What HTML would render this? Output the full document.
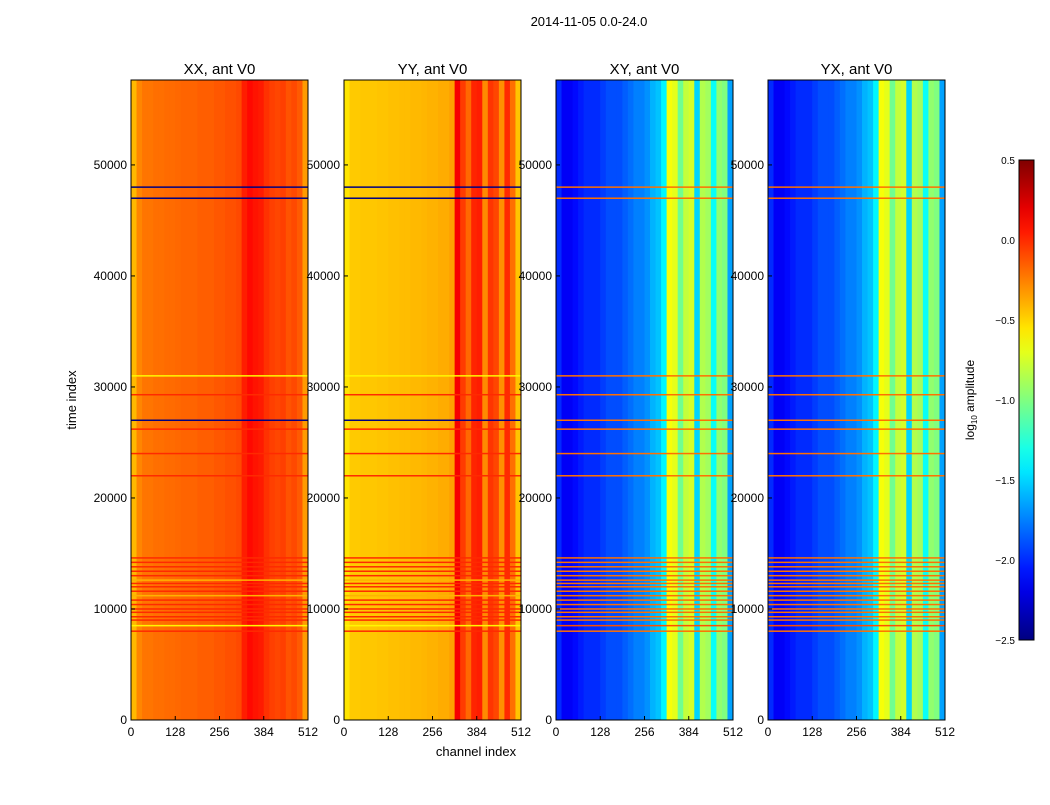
<!DOCTYPE html>
<html><head><meta charset="utf-8"><style>
body{margin:0;background:#fff;font-family:"Liberation Sans","DejaVu Sans",sans-serif}
svg text{font-family:"Liberation Sans","DejaVu Sans",sans-serif}
</style></head><body>
<svg id="fig" width="1050" height="800" xmlns="http://www.w3.org/2000/svg">
<rect width="1050" height="800" fill="#fff"/>
<text x="589" y="26" font-size="13" text-anchor="middle">2014-11-05 0.0-24.0</text>
<text transform="translate(76,400) rotate(-90)" font-size="13" text-anchor="middle">time index</text>
<text x="476" y="756" font-size="13" text-anchor="middle">channel index</text>
</svg>
<script>
// ---- data ----
const panelTitles = ["XX, ant V0","YY, ant V0","XY, ant V0","YX, ant V0"];
const channelBins = [0,16,32,48,64,80,96,112,128,144,160,176,192,208,224,240,256,272,288,304,320,336,352,368,384,400,416,432,448,464,480,496];
const xxProfile = [-0.42,-0.27,-0.22,-0.22,-0.2,-0.2,-0.19,-0.19,-0.18,-0.17,-0.17,-0.17,-0.15,-0.15,-0.15,-0.13,-0.13,-0.11,-0.11,-0.09,0.04,0.1,0.07,0.05,-0.02,-0.06,-0.08,-0.06,-0.12,-0.09,-0.14,-0.33];
const yyProfile = [-0.55,-0.47,-0.47,-0.46,-0.46,-0.46,-0.45,-0.45,-0.44,-0.44,-0.43,-0.43,-0.42,-0.42,-0.41,-0.4,-0.4,-0.38,-0.38,-0.35,0.15,-0.05,-0.18,0.02,0.04,-0.28,-0.03,-0.08,-0.3,0.0,-0.2,-0.45];
const xyProfile = [-2.0,-2.15,-2.15,-2.1,-2.05,-2.0,-2.0,-2.0,-1.95,-1.9,-1.9,-1.9,-1.85,-1.8,-1.75,-1.75,-1.7,-1.6,-1.55,-1.4,-0.65,-0.7,-1.05,-0.8,-0.75,-1.5,-0.85,-0.9,-1.35,-0.95,-1.0,-1.65];
const yxProfile = [-2.0,-2.15,-2.15,-2.1,-2.05,-2.0,-2.0,-2.0,-1.95,-1.9,-1.9,-1.9,-1.85,-1.8,-1.75,-1.75,-1.7,-1.6,-1.55,-1.4,-0.65,-0.7,-1.05,-0.8,-0.75,-1.5,-0.85,-0.9,-1.35,-0.95,-1.0,-1.65];
const stripeTimes = [8000,8500,9000,9300,9700,10000,10400,10800,11200,11600,12000,12300,12600,13000,13400,13800,14200,14600,22000,24000,26200,27000,29300,31000,47000,48000];
const stripeXX = [0.0,-0.6,0.0,0.0,0.0,0.0,0.0,0.0,-0.4,0.0,0.0,0.0,-0.4,0.0,0.0,0.0,0.0,0.0,0.0,0.0,0.0,-2.5,0.0,-0.6,-2.5,-2.5];
const stripeXY = [-0.2,-0.1,-0.2,-0.2,-0.2,-0.2,-0.2,-0.2,-0.2,-0.2,-0.2,-0.2,-0.2,-0.2,-0.2,-0.2,-0.2,-0.2,-0.2,-0.2,-0.2,-0.2,-0.2,-0.2,-0.2,-0.2];
const xTicks = [0,128,256,384,512];
const yTicks = [0,10000,20000,30000,40000,50000];
const cbTicks = [0.5,0.0,-0.5,-1.0,-1.5,-2.0,-2.5];
// ---- layout ----
const NS="http://www.w3.org/2000/svg";
const svg=document.getElementById('fig');
const panelsX=[131,344,556,768], PW=177, PT=80, PB=720;
const tMax=57650, vmin=-2.5, vmax=0.5;
function mk(t,a,p){const e=document.createElementNS(NS,t);for(const k in a)e.setAttribute(k,a[k]);(p||svg).appendChild(e);return e;}
function jet(v){let t=(v-vmin)/(vmax-vmin);t=Math.max(0,Math.min(1,t));
 const f=x=>Math.max(0,Math.min(1,x));
 const r=f(1.5-Math.abs(4*t-3)),g=f(1.5-Math.abs(4*t-2)),b=f(1.5-Math.abs(4*t-1));
 return `rgb(${Math.round(r*255)},${Math.round(g*255)},${Math.round(b*255)})`;}
const profiles=[xxProfile,yyProfile,xyProfile,yxProfile];
const stripeVals=[stripeXX,stripeXX,stripeXY,stripeXY];
function yScale(t){return PB-(t/tMax)*(PB-PT);}
panelsX.forEach((x0,pi)=>{
 const xs=c=>x0+c/512*PW;
 const g=mk('g',{});
 
 
 channelBins.forEach((c,i)=>{
  const c2=i+1<channelBins.length?channelBins[i+1]:512;
  const r=mk('rect',{x:xs(c),y:PT,width:xs(c2)-xs(c)+0.5,height:PB-PT,fill:jet(profiles[pi][i])},g);
  
  
 });
 stripeTimes.forEach((t,i)=>{
  const r=mk('rect',{x:x0,y:yScale(t)-0.75,width:PW,height:1.5,fill:jet(stripeVals[pi][i])},g);
  
  
 });
 const fr=mk('rect',{x:x0,y:PT,width:PW,height:PB-PT,fill:'none',stroke:'#000','stroke-width':1});
 
 
 const tt=mk('text',{x:x0+PW/2,y:74,'font-size':15,'text-anchor':'middle'});tt.textContent=panelTitles[pi];
 
 
 xTicks.forEach(c=>{
  mk('line',{x1:xs(c),x2:xs(c),y1:PB,y2:PB-4,stroke:'#000'});
  const l=mk('text',{x:xs(c),y:PB+16,'font-size':12,'text-anchor':'middle'});l.textContent=c;
  
  
 });
 yTicks.forEach(t=>{
  mk('line',{x1:x0,x2:x0+4,y1:yScale(t),y2:yScale(t),stroke:'#000'});
  const l=mk('text',{x:x0-4,y:yScale(t)+4,'font-size':12,'text-anchor':'end'});l.textContent=t;
  
  
 });
});
// colorbar
const CX=1019,CW=15,CT=160,CB=640;
const defs=mk('defs',{});
const lg=mk('linearGradient',{id:'jetg',x1:0,y1:1,x2:0,y2:0},defs);
for(let i=0;i<=20;i++){mk('stop',{offset:i/20,'stop-color':jet(vmin+(vmax-vmin)*i/20)},lg);}
const cb=mk('rect',{x:CX,y:CT,width:CW,height:CB-CT,fill:'url(#jetg)',stroke:'#000'});


cbTicks.forEach(v=>{
 const y=CB-(v-vmin)/(vmax-vmin)*(CB-CT);
 const l=mk('text',{x:CX-4,y:y+4,'font-size':10,'text-anchor':'end'});l.textContent=v.toFixed(1).replace('-','\u2212');
 
 
});
const cl=mk('text',{transform:'translate(974,400) rotate(-90)','font-size':12,'text-anchor':'middle'});
cl.innerHTML='log<tspan font-size="8" dy="3">10</tspan><tspan dy="-3"> amplitude</tspan>';


</script>
</body></html>
